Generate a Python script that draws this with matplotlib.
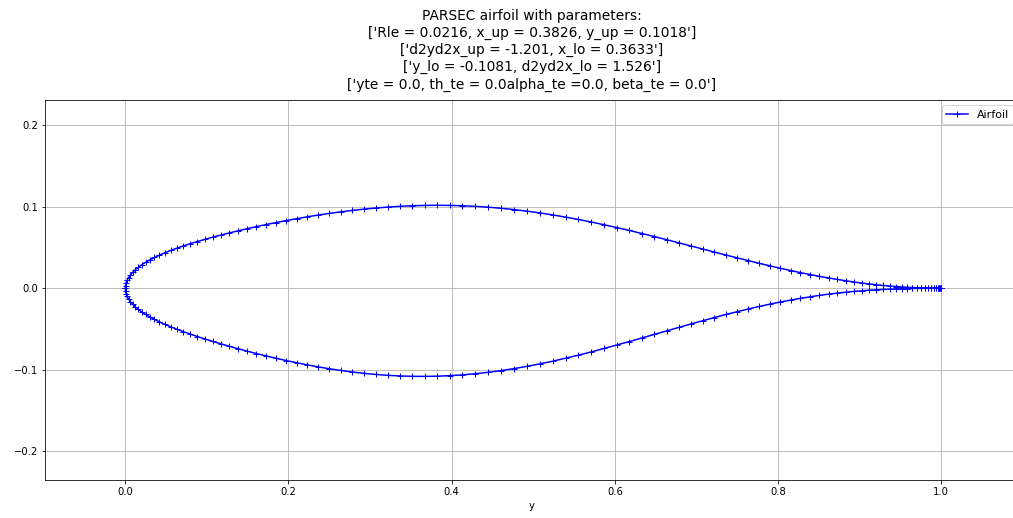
import matplotlib.pyplot as plt

# Toạ độ dây cung (giống nhau cho mặt trên và mặt dưới)
x_chord = [0.0, 0.0003, 0.0010, 0.0023, 0.0040, 0.0063, 0.0090, 0.0123, 0.0160, 0.0203,
           0.0250, 0.0302, 0.0358, 0.0419, 0.0485, 0.0556, 0.0631, 0.0710, 0.0794, 0.0882,
           0.0974, 0.1070, 0.1170, 0.1274, 0.1381, 0.1493, 0.1607, 0.1726, 0.1847, 0.1972,
           0.2100, 0.2230, 0.2364, 0.2500, 0.2639, 0.2780, 0.2923, 0.3068, 0.3216, 0.3365,
           0.3515, 0.3668, 0.3821, 0.3976, 0.4132, 0.4288, 0.4446, 0.4604, 0.4762, 0.4921,
           0.5079, 0.5238, 0.5396, 0.5554, 0.5712, 0.5868, 0.6024, 0.6179, 0.6332, 0.6485,
           0.6635, 0.6784, 0.6932, 0.7077, 0.7220, 0.7361, 0.7500, 0.7636, 0.7770, 0.7900,
           0.8028, 0.8153, 0.8274, 0.8393, 0.8507, 0.8619, 0.8726, 0.8830, 0.8930, 0.9026,
           0.9118, 0.9206, 0.9290, 0.9369, 0.9444, 0.9515, 0.9581, 0.9642, 0.9698, 0.9750,
           0.9797, 0.9840, 0.9877, 0.9910, 0.9937, 0.9960, 0.9977, 0.9990, 0.9997, 1.0]

# Mặt trên
y_upper = [0.0, 0.00330, 0.00659, 0.00986, 0.01311, 0.01634, 0.01953, 0.02268, 0.02580, 0.02887,
           0.03189, 0.03487, 0.03780, 0.04069, 0.04354, 0.04635, 0.04913, 0.05188, 0.05461, 0.05731,
           0.05999, 0.06265, 0.06529, 0.06792, 0.07052, 0.07311, 0.07566, 0.07818, 0.08065, 0.08306,
           0.08540, 0.08766, 0.08982, 0.09186, 0.09375, 0.09550, 0.09707, 0.09845, 0.09961, 0.10054,
           0.10123, 0.10166, 0.10181, 0.10167, 0.10124, 0.10052, 0.09949, 0.09817, 0.09655, 0.09463,
           0.09246, 0.09002, 0.08728, 0.08439, 0.08128, 0.07792, 0.07448, 0.07091, 0.06715, 0.06341,
           0.05962, 0.05572, 0.05192, 0.04817, 0.04446, 0.04075, 0.03725, 0.03387, 0.03055, 0.02746,
           0.02455, 0.02181, 0.01918, 0.01680, 0.01462, 0.01262, 0.01079, 0.00914, 0.00768, 0.00639,
           0.00526, 0.00428, 0.00343, 0.00271, 0.00212, 0.00161, 0.00121, 0.00088, 0.00063, 0.00043,
           0.00028, 0.00018, 0.00010, 0.00006, 0.00003, 0.00001, 0.0, 0.0, 0.0, 0.0]

# Mặt dưới
y_lower = [0.0, -0.00330, -0.00659, -0.00987, -0.01313, -0.01637, -0.01958, -0.02276, -0.02592, -0.02904,
           -0.03213, -0.03520, -0.03824, -0.04126, -0.04426, -0.04724, -0.05023, -0.05320, -0.05618, -0.05916,
           -0.06215, -0.06515, -0.06814, -0.07115, -0.07414, -0.07713, -0.08009, -0.08301, -0.08588, -0.08868,
           -0.09138, -0.09397, -0.09642, -0.09871, -0.10080, -0.10269, -0.10433, -0.10570, -0.10678, -0.10755,
           -0.10799, -0.10809, -0.10783, -0.10720, -0.10620, -0.10483, -0.10310, -0.10101, -0.09858, -0.09581,
           -0.09277, -0.08945, -0.08578, -0.08201, -0.07805, -0.07382, -0.06961, -0.06532, -0.06086, -0.05653,
           -0.05223, -0.04789, -0.04376, -0.03976, -0.03590, -0.03213, -0.02865, -0.02538, -0.02228, -0.01945,
           -0.01685, -0.01448, -0.01234, -0.01042, -0.00871, -0.00721, -0.00593, -0.00483, -0.00386, -0.00304,
           -0.00235, -0.00181, -0.00142, -0.00109, -0.00078, -0.00055, -0.00038, -0.00026, -0.00018, -0.00012,
           -0.00008, -0.00005, -0.00003, -0.00001, -0.00001, 0.0, 0.0, 0.0, 0.0, 0.0]

title_lines = ["PARSEC airfoil with parameters:",
               "['Rle = 0.0216, x_up = 0.3826, y_up = 0.1018']",
               "['d2yd2x_up = -1.201, x_lo = 0.3633']",
               "['y_lo = -0.1081, d2yd2x_lo = 1.526']",
               "['yte = 0.0, th_te = 0.0alpha_te =0.0, beta_te = 0.0']"]

# Đi từ mép sau -> mép trước (mặt trên) rồi quay lại mép sau (mặt dưới)
x_all = x_chord[::-1] + x_chord
y_all = y_upper[::-1] + y_lower

fig = plt.figure(figsize=(1013 / 72, 518 / 72), dpi=72)
# trục kéo dài qua mép phải ảnh (ảnh gốc bị cắt ở đó)
ax = fig.add_axes([0.0444, 0.0724, 0.9615, 0.7346])

ax.plot(x_all, y_all, 'b-+', label='Airfoil')
ax.set_title('\n'.join(title_lines), fontsize=13.8, linespacing=1.28, pad=11.5)
ax.set_xlabel('y')
ax.set_xlim(-0.0984, 1.0952)
ax.set_ylim(-0.2358, 0.2310)
ax.set_yticks([-0.2, -0.1, 0.0, 0.1, 0.2])
ax.grid(True)
ax.legend(loc='upper right', fontsize=11)

fig.savefig('out.png', dpi=72)
